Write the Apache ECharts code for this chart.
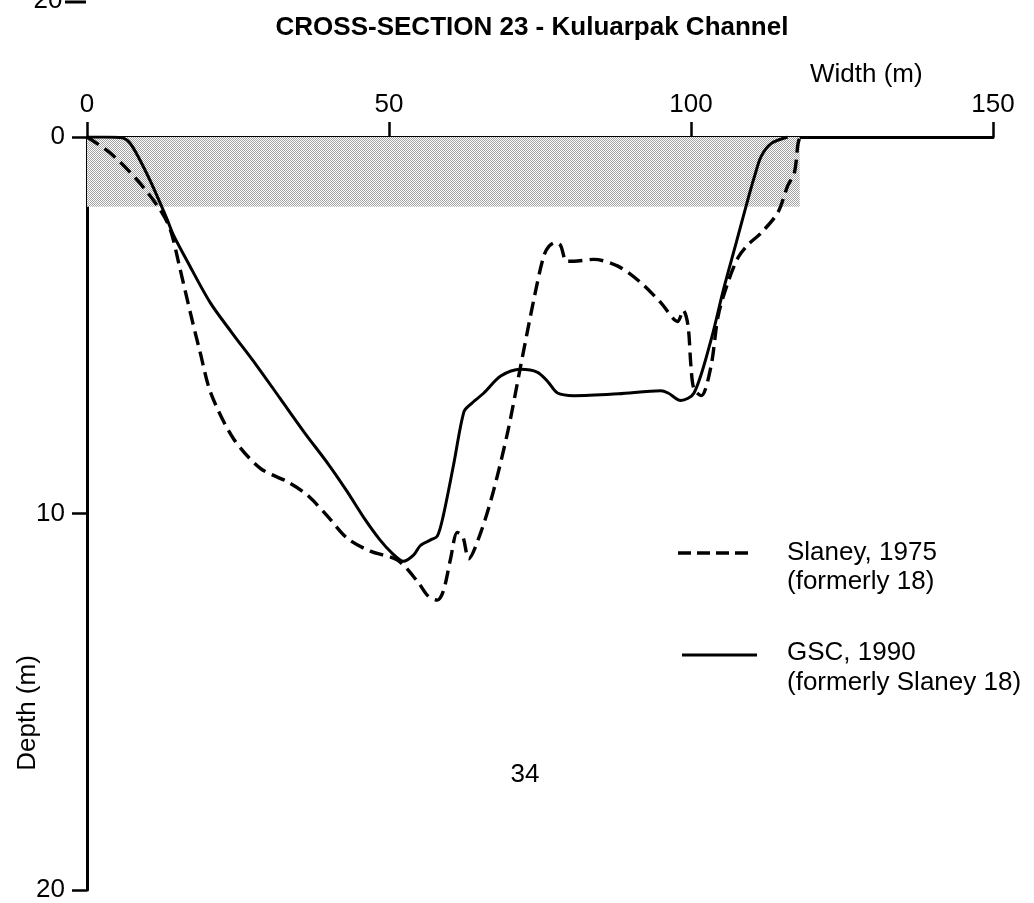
<!DOCTYPE html>
<html>
<head>
<meta charset="utf-8">
<script src="https://cdn.jsdelivr.net/npm/echarts@6/dist/echarts.min.js"></script>
<style>
  html, body { margin: 0; padding: 0; background: #fff; }
  #crossChart { width: 1034px; height: 903px; }
</style>
</head>
<body>
<div id="crossChart"></div>
<script>
// width along section (m) / depth below surface (m)
var slaneyWidth = [0, 3.8, 8.3, 12.1, 13.8, 15.4, 17.1, 18.7, 20.5, 24.2, 28.7, 33.1, 36.4, 39.7, 43.1, 46.9, 51.4, 54.7, 56.5, 58, 59, 60.2, 61.3, 62.2, 63.2, 65.2, 67.3, 69.7, 71.8, 74, 75.6, 76.5, 77.6, 78.4, 79.4, 80.6, 83.9, 87.9, 91.7, 95, 97.8, 98.7, 99.5, 100, 100.5, 101.7, 103.3, 104.5, 106.1, 107.8, 109.5, 111.6, 114.4, 116, 117.1, 117.7, 118];
var slaneyDepth = [0, 0.42, 1.14, 1.93, 2.46, 3.5, 4.66, 5.7, 6.8, 8.0, 8.8, 9.15, 9.5, 10.05, 10.66, 11.0, 11.24, 11.8, 12.2, 12.3, 12.06, 11.2, 10.5, 10.6, 11.2, 10.5, 9.4, 7.8, 6.08, 4.3, 3.17, 2.9, 2.8, 2.88, 3.3, 3.3, 3.25, 3.43, 3.87, 4.4, 4.9, 4.6, 5.0, 6.1, 6.7, 6.87, 6.1, 4.75, 3.87, 3.2, 2.85, 2.55, 2.0, 1.3, 0.96, 0.2, 0];

var gscWidth = [0, 3, 6, 7.1, 8.5, 10.4, 12.1, 13.3, 14.3, 16.6, 20.4, 24, 28, 32, 36, 40, 43, 46, 48.5, 50.5, 52.4, 54.1, 55.2, 56.9, 58, 59, 60.7, 62.4, 63.5, 65.7, 68.5, 71.8, 74.6, 76.3, 77.9, 80.6, 88, 95, 96.2, 98.3, 100.5, 103.3, 105.3, 107.5, 109.4, 110.6, 111.6, 113.3, 116];
var gscDepth = [0, 0, 0.03, 0.16, 0.53, 1.14, 1.75, 2.2, 2.6, 3.3, 4.4, 5.2, 6.05, 6.95, 7.85, 8.7, 9.4, 10.15, 10.7, 11.05, 11.27, 11.1, 10.85, 10.7, 10.6, 10.05, 8.7, 7.3, 7.1, 6.8, 6.35, 6.17, 6.25, 6.5, 6.8, 6.87, 6.82, 6.74, 6.8, 7.0, 6.8, 5.4, 4.1, 2.8, 1.67, 1.0, 0.52, 0.17, 0];

// stippled band near the surface
var bandWidth = [0, 118];
var bandDepth = [0, 1.85];

var xTicks = [0, 150, 50];
var yTicks = [0, 20, 10];

function pairs(xs, ys) {
  return xs.map(function (x, i) { return [x, ys[i]]; });
}

var dots = document.createElement('canvas');
dots.width = 2;
dots.height = 2;
var dctx = dots.getContext('2d');
dctx.fillStyle = '#ffffff';
dctx.fillRect(0, 0, 2, 2);
dctx.fillStyle = '#a2a2a2';
dctx.fillRect(0, 0, 1, 1);
dctx.fillRect(1, 1, 1, 1);

var font = '"Liberation Sans", Arial, Helvetica, sans-serif';
var ink = '#000';

var option = {
  animation: false,
  backgroundColor: '#fff',
  title: {
    text: 'CROSS-SECTION 23 - Kuluarpak Channel',
    left: 527,
    top: 10,
    textAlign: 'center',
    textStyle: { fontFamily: font, fontSize: 26, fontWeight: 'bold', color: ink }
  },
  grid: { left: 87, right: 41, top: 137, bottom: 10 },
  xAxis: {
    type: 'value',
    position: 'top',
    min: xTicks[0],
    max: xTicks[1],
    interval: xTicks[2],
    axisLine: { lineStyle: { color: ink, width: 3 } },
    axisTick: { show: true, inside: false, length: 15, lineStyle: { color: ink, width: 2.5 } },
    axisLabel: { margin: 19, fontFamily: font, fontSize: 26, color: ink },
    splitLine: { show: false }
  },
  yAxis: {
    type: 'value',
    inverse: true,
    min: yTicks[0],
    max: yTicks[1],
    interval: yTicks[2],
    axisLine: { show: true, lineStyle: { color: ink, width: 3 } },
    axisTick: { show: true, inside: false, length: 15, lineStyle: { color: ink, width: 2.5 } },
    axisLabel: { margin: 22, fontFamily: font, fontSize: 26, color: ink },
    splitLine: { show: false }
  },
  series: [
    {
      name: 'Slaney, 1975',
      type: 'line',
      data: pairs(slaneyWidth, slaneyDepth),
      smooth: 0.3,
      symbol: 'none',
      z: 3,
      lineStyle: { color: ink, width: 3.4, type: [14, 7], cap: 'butt' },
      markArea: {
        silent: true,
        z: 1,
        itemStyle: { color: { image: dots, repeat: 'repeat' } },
        data: [[
          { coord: [bandWidth[0], bandDepth[0]] },
          { coord: [bandWidth[1], bandDepth[1]] }
        ]]
      }
    },
    {
      name: 'GSC, 1990',
      type: 'line',
      data: pairs(gscWidth, gscDepth),
      smooth: 0.3,
      symbol: 'none',
      z: 4,
      lineStyle: { color: ink, width: 3 }
    }
  ],
  graphic: [
    { type: 'text', left: 810, top: 62, style: { text: 'Width (m)', font: '26px ' + font, fill: ink } },
    { type: 'text', x: 28, y: 713, rotation: Math.PI / 2,
      style: { text: 'Depth (m)', font: '26px ' + font, fill: ink, align: 'center', verticalAlign: 'middle' } },
    { type: 'text', x: 48, y: 1, style: { text: '20', font: '26px ' + font, fill: ink, align: 'center', verticalAlign: 'middle' } },
    { type: 'line', shape: { x1: 65, y1: 2, x2: 86, y2: 2 }, style: { stroke: ink, lineWidth: 3 } },
    { type: 'text', x: 525, y: 775, style: { text: '34', font: '26px ' + font, fill: ink, align: 'center', verticalAlign: 'middle' } },
    // legend
    { type: 'line', shape: { x1: 678, y1: 553, x2: 752, y2: 553 },
      style: { stroke: ink, lineWidth: 3.4, lineDash: [13, 6] } },
    { type: 'text', x: 787, y: 553, style: { text: 'Slaney, 1975', font: '26px ' + font, fill: ink, verticalAlign: 'middle' } },
    { type: 'text', x: 787, y: 582, style: { text: '(formerly 18)', font: '26px ' + font, fill: ink, verticalAlign: 'middle' } },
    { type: 'line', shape: { x1: 682, y1: 655, x2: 757, y2: 655 }, style: { stroke: ink, lineWidth: 3 } },
    { type: 'text', x: 787, y: 653, style: { text: 'GSC, 1990', font: '26px ' + font, fill: ink, verticalAlign: 'middle' } },
    { type: 'text', x: 787, y: 683, style: { text: '(formerly Slaney 18)', font: '26px ' + font, fill: ink, verticalAlign: 'middle' } }
  ]
};

var crossChart = echarts.init(document.getElementById('crossChart'));
crossChart.setOption(option);
</script>
</body>
</html>
